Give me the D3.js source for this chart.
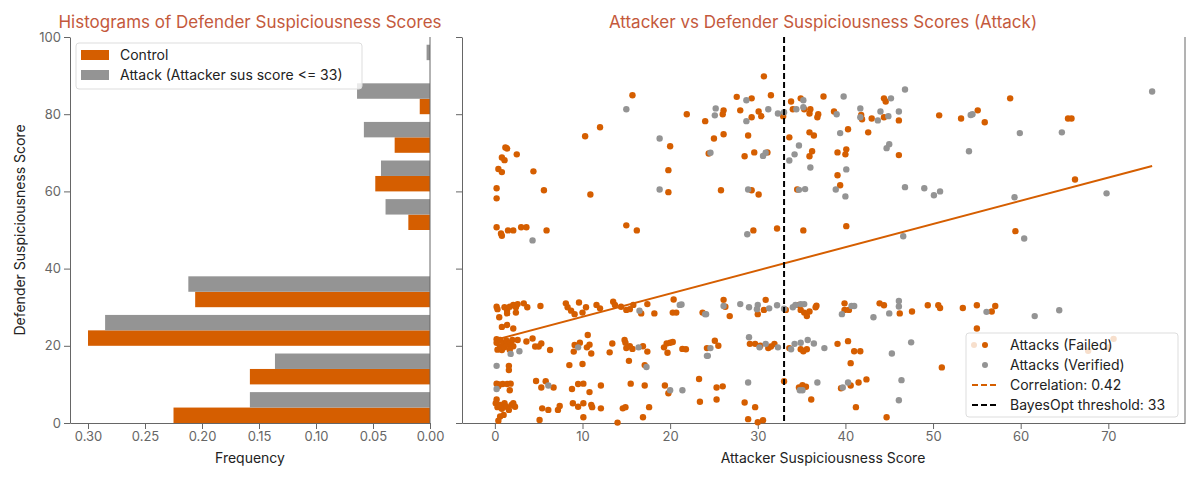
<!DOCTYPE html>
<html><head><meta charset="utf-8">
<script src="https://cdn.jsdelivr.net/npm/d3@7"></script>
<style>body{margin:0;background:#fff}text{font-family:Inter,"DejaVu Sans",sans-serif}</style>
</head><body><svg id="c" width="1200" height="480"></svg>
<script>
// ---- data ----
const binStarts = [0,10,20,30,40,50,60,70,80,90];
const controlFreq = [0.225,0.158,0.300,0.206,0,0.019,0.048,0.031,0.009,0];
const attackFreq  = [0.158,0.136,0.285,0.212,0,0.039,0.043,0.058,0.064,0.003];
const freqTicks = [0.30,0.25,0.20,0.15,0.10,0.05,0.00];
const scoreTicks = [0,20,40,60,80,100];
const attackerTicks = [0,10,20,30,40,50,60,70];
const threshold = 33;
const corr = 0.42;
const fitLine = [[0,21.5],[75,66.6]];
const failedPts = [
[0.2,60.8],[0.2,58.2],[1.2,71.4],[1.4,71.1],[0.8,68.8],[1.1,68.1],[0.4,65.8],[0.8,65.0],[2.5,69.6],[4.4,65.2],[5.6,60.3],
[0.2,50.7],[0.7,49.1],[0.8,48.5],[1.5,49.9],[2.1,49.9],[3.0,50.7],[3.6,50.7],[5.9,49.9],
[10.3,74.3],[12.0,76.6],[10.9,59.2],[15.7,84.9],[15.0,51.2],[16.2,49.9],[20.0,71.7],[19.8,65.5],[19.8,59.8],
[21.9,80.0],[24.0,78.2],[25.0,73.7],[26.1,74.8],[26.1,81.0],[26.0,80.0],[24.4,69.8],[25.8,60.3],[27.6,84.5],[29.3,84.1],
[28.0,81.0],[29.3,79.2],[28.9,74.5],[28.5,69.1],[29.6,70.1],[31.1,70.1],[30.7,89.8],[31.5,84.9],[30.1,80.7],[30.4,79.5],
[32.9,79.5],[29.3,60.3],[30.1,59.2],[29.5,49.9],[32.2,50.4],[33.6,74.0],[33.8,83.3],[34.9,84.1],[34.0,81.3],[35.3,81.3],
[36.0,81.3],[35.9,80.2],[36.9,80.0],[36.8,79.2],[37.5,84.6],[35.9,75.3],[36.4,74.5],[36.2,70.4],[35.9,69.1],[34.5,60.5],
[35.2,49.9],[38.7,80.7],[40.3,76.1],[39.1,70.1],[40.1,70.9],[40.0,69.6],[39.1,64.2],[39.4,61.6],[40.1,51.0],[41.8,79.8],
[44.4,84.1],[44.6,83.3],[41.9,78.7],[43.0,78.9],[44.4,79.2],[46.1,78.4],[42.6,75.3],[46.1,69.4],[50.7,79.7],[53.2,78.9],
[55.1,81.0],[55.9,77.9],[58.8,84.1],[65.4,78.9],[65.8,78.9],[66.2,63.1],[59.4,49.7],
[53.4,29.8],[55.0,30.5],[57.1,30.3],[56.7,28.9],[55.0,24.5],[67.7,18.7],[70.0,19.6],[70.6,21.8],
[26.1,31.9],[26.3,30.1],[26.8,27.7],[30.0,28.2],[30.7,29.3],[30.9,31.9],[33.2,29.3],[34.7,30.6],[34.9,29.3],[35.3,28.6],
[35.6,27.7],[35.9,28.9],[36.6,30.0],[36.7,30.4],[39.9,31.0],[39.9,29.3],[40.4,29.3],[43.9,31.0],[44.4,30.5],[46.2,28.4],
[47.6,28.9],[49.4,30.5],[50.6,30.5],[50.8,29.8],
[0.2,30.1],[0.3,29.5],[1.1,30.0],[1.4,29.1],[1.7,30.1],[2.1,30.6],[2.4,30.0],[2.6,30.8],[3.3,31.0],[3.7,30.0],[2.4,28.6],
[1.4,28.4],[0.5,27.4],[5.2,30.3],[8.1,31.0],[8.3,30.0],[8.7,29.1],[9.6,31.2],[10.0,28.6],[10.4,30.0],[9.1,28.2],[11.6,30.6],
[12.0,29.7],[13.5,31.4],[13.7,30.6],[14.4,30.1],[15.0,29.3],[15.4,29.5],[15.8,30.6],[16.7,28.4],[17.4,30.8],[18.2,28.4],
[20.4,32.0],[20.3,28.6],[20.7,28.6],[23.7,28.6],[1.4,25.4],[0.8,24.9],[2.1,24.5],[10.6,22.8],
[0.2,21.7],[0.2,20.8],[0.6,21.5],[0.6,19.9],[0.3,19.0],[0.8,18.9],[1.0,20.7],[1.1,19.6],[1.3,21.4],[1.5,20.3],[1.7,19.0],
[1.8,20.9],[2.0,21.5],[2.1,19.9],[2.6,21.5],[3.6,21.1],[4.3,21.9],[4.6,19.8],[5.0,19.8],[5.3,20.6],[6.3,18.9],[9.1,20.2],
[9.0,18.5],[9.7,20.8],[10.5,19.6],[11.0,18.0],[10.8,20.3],[13.1,18.3],[13.4,20.6],[14.8,21.5],[14.9,20.8],[15.0,19.4],
[15.4,19.9],[15.7,19.2],[16.9,19.9],[17.4,18.5],[19.3,19.6],[19.6,20.6],[20.0,20.8],[20.3,21.0],[19.7,18.2],[21.4,19.2],
[21.8,19.1],[15.3,16.1],[17.1,15.0],[8.5,15.0],[10.0,15.3],[1.6,14.8],[1.6,13.7],
[25.1,21.3],[24.2,19.4],[25.5,20.0],[29.1,20.5],[29.7,20.5],[30.3,20.0],[31.2,19.4],[31.5,19.8],[31.9,20.5],[33.6,19.4],
[34.9,19.1],[35.2,18.6],[35.6,19.1],[39.1,20.5],[40.3,21.2],[41.0,18.6],[41.7,18.6],[40.6,15.5],[51.0,14.4],
[0.2,10.2],[0.5,10.0],[0.4,9.5],[0.9,10.1],[1.4,10.1],[1.8,10.2],[1.7,8.5],[4.7,10.9],[5.3,9.2],[5.8,10.8],[6.7,9.2],
[8.8,8.8],[9.5,10.1],[10.1,10.2],[10.8,8.0],[12.1,9.7],[15.5,10.2],[17.1,9.7],[19.4,9.7],[19.8,7.7],[23.3,11.4],[23.4,5.5],
[25.3,9.2],[26.0,9.5],[33.0,10.8],[34.7,9.2],[35.1,9.8],[35.5,9.4],[36.1,6.1],[39.5,9.0],[40.6,9.7],[41.5,10.5],[42.4,11.3],
[41.2,4.1],[25.3,6.1],[28.5,5.3],[29.7,4.1],[28.9,1.0],[30.0,0.2],[30.6,0.7],[44.7,1.5],
[0.2,6.1],[0.1,5.1],[0.3,4.1],[0.6,4.7],[0.8,3.7],[1.1,5.1],[1.3,4.2],[1.6,3.4],[1.9,4.7],[2.1,5.1],[2.3,4.2],[5.4,3.8],
[6.1,3.4],[7.2,3.4],[7.4,4.4],[8.9,5.1],[9.5,4.2],[10.1,5.1],[11.0,4.7],[11.1,4.1],[12.1,3.8],[14.6,3.8],[14.9,4.1],
[17.6,4.1],[10.1,1.5],[5.1,0.8],[0.6,1.7],[1.0,2.1],[0.4,0.6],[16.9,1.5],[14.0,0.1]
];
const verifiedPts = [
[4.3,47.3],[15.0,81.3],[18.8,73.7],[18.8,60.5],[25.2,81.5],[25.1,79.7],[24.6,70.0],[28.7,83.6],[28.7,78.2],[30.6,69.2],
[30.9,70.0],[31.2,81.3],[32.3,80.2],[33.0,80.5],[28.9,60.5],[28.8,48.9],[33.6,68.0],[34.2,69.6],[34.7,71.9],[35.2,83.6],
[34.4,81.3],[35.2,81.8],[36.0,66.2],[34.7,60.4],[35.4,60.6],[39.0,80.0],[39.8,84.6],[39.4,75.1],[40.1,65.7],[38.9,60.5],
[40.0,58.7],[41.7,81.5],[41.7,79.2],[46.8,86.4],[45.2,84.1],[43.7,78.4],[44.0,80.7],[44.9,79.5],[46.1,80.7],[44.7,71.2],
[45.0,72.2],[54.3,79.8],[54.5,80.0],[59.9,75.1],[54.1,70.4],[64.7,75.3],[75.0,85.9],[46.8,61.1],[49.0,60.8],[50.1,59.0],
[50.8,60.0],[59.3,58.5],[60.4,47.8],[69.8,59.5],[46.6,48.4],
[56.1,28.8],[61.6,27.7],[64.4,29.2],
[26.1,30.3],[24.1,28.2],[28.0,30.8],[29.0,30.0],[30.0,30.6],[29.9,29.5],[31.3,29.7],[32.2,30.5],[33.0,29.6],[34.0,30.0],
[34.3,30.6],[34.9,30.8],[35.3,30.8],[40.7,30.3],[41.0,30.3],[39.6,28.2],[46.1,31.6],[46.1,30.2],[45.0,28.4],[43.2,27.4],
[16.5,29.1],[21.1,30.6],[21.3,30.7],[24.0,28.2],
[24.6,19.4],[24.3,17.4],[29.0,22.2],[30.2,19.6],[30.9,20.5],[32.3,19.6],[33.8,19.1],[34.2,20.5],[34.9,20.8],[35.7,21.5],
[36.4,20.6],[37.6,19.4],[45.3,18.0],[47.5,20.9],[1.8,17.9],[2.8,18.6],[9.5,19.6],[16.4,19.6],[24.2,17.4],[17.3,14.5],[0.2,14.8],
[28.9,10.5],[34.8,8.5],[35.1,8.5],[36.8,10.5],[39.7,9.2],[40.3,10.5],[46.4,11.1],[46.1,5.9],[0.2,8.8],[6.1,9.7],[20.0,8.5],[21.4,8.5]
];

// ---- drawing ----
const svg = d3.select("#c");
const ORANGE = "#d55e00", GRAY = "#949494", TITLE = "#c4593c", AX = "#666";
const yTop = 37, yBot = 423;

const xL = d3.scaleLinear().domain([0.3158, 0]).range([70, 430]);
const yS = d3.scaleLinear().domain([0, 100]).range([yBot, yTop]);
const gL = svg.append("g");
gL.selectAll(".c").data(binStarts).join("rect")
  .attr("x", (d,i) => xL(controlFreq[i])).attr("width", (d,i) => xL(0) - xL(controlFreq[i]))
  .attr("y", d => yS(d + 4)).attr("height", d => yS(d) - yS(d + 4)).attr("fill", ORANGE);
gL.selectAll(".a").data(binStarts).join("rect")
  .attr("x", (d,i) => xL(attackFreq[i])).attr("width", (d,i) => xL(0) - xL(attackFreq[i]))
  .attr("y", d => yS(d + 8)).attr("height", d => yS(d + 4) - yS(d + 8)).attr("fill", GRAY);

function styleAxis(g){
  g.selectAll("path,line").attr("stroke", AX);
  g.selectAll("text").attr("fill", "#666").attr("font-size", 13);
}
styleAxis(gL.append("g").attr("transform", `translate(0,${yBot})`)
  .call(d3.axisBottom(xL).tickValues(freqTicks).tickFormat(d3.format(".2f")).tickSizeOuter(0)));
styleAxis(gL.append("g").attr("transform", "translate(70,0)")
  .call(d3.axisLeft(yS).tickValues(scoreTicks).tickSizeOuter(0)));
gL.append("line").attr("x1",430).attr("x2",430).attr("y1",yTop).attr("y2",yBot).attr("stroke",AX);

const lg = gL.append("g");
lg.append("rect").attr("x",76).attr("y",43).attr("width",286).attr("height",46).attr("rx",3)
  .attr("fill","#fff").attr("fill-opacity",0.8).attr("stroke","#ddd");
[["Control",ORANGE],["Attack (Attacker sus score <= 33)",GRAY]].forEach((e,i)=>{
  lg.append("rect").attr("x",81).attr("y",50+i*20).attr("width",28).attr("height",10).attr("fill",e[1]);
  lg.append("text").attr("x",120).attr("y",60+i*20).attr("font-size",14).attr("fill","#222").text(e[0]);
});

const xR = d3.scaleLinear().domain([-3.75, 78.75]).range([462, 1185]);
const gR = svg.append("g");
styleAxis(gR.append("g").attr("transform", `translate(0,${yBot})`)
  .call(d3.axisBottom(xR).tickValues(attackerTicks).tickSizeOuter(0)));
styleAxis(gR.append("g").attr("transform", "translate(462,0)")
  .call(d3.axisLeft(yS).tickValues(scoreTicks).tickFormat("").tickSizeOuter(0)));
gR.append("line").attr("x1",1185).attr("x2",1185).attr("y1",yTop).attr("y2",yBot).attr("stroke",AX);

gR.selectAll(".f").data(failedPts).join("circle")
  .attr("cx", d => xR(d[0])).attr("cy", d => yS(d[1])).attr("r", 3.2).attr("fill", ORANGE);
gR.selectAll(".v").data(verifiedPts).join("circle")
  .attr("cx", d => xR(d[0])).attr("cy", d => yS(d[1])).attr("r", 3.2).attr("fill", GRAY);
gR.append("line").attr("x1", xR(fitLine[0][0])).attr("y1", yS(fitLine[0][1]))
  .attr("x2", xR(fitLine[1][0])).attr("y2", yS(fitLine[1][1])).attr("stroke", ORANGE).attr("stroke-width", 2);
gR.append("line").attr("x1", xR(threshold)).attr("x2", xR(threshold)).attr("y1", yTop).attr("y2", yBot)
  .attr("stroke","#000").attr("stroke-width",2).attr("stroke-dasharray","6,3");

const rg = gR.append("g");
rg.append("rect").attr("x",966).attr("y",333).attr("width",212).attr("height",84).attr("rx",3)
  .attr("fill","#fff").attr("fill-opacity",0.8).attr("stroke","#ddd");
const ly = [345,365,385,405];
rg.append("circle").attr("cx",974).attr("cy",ly[0]).attr("r",3).attr("fill",ORANGE).attr("opacity",0.2);
rg.append("circle").attr("cx",985).attr("cy",ly[0]).attr("r",3).attr("fill",ORANGE);
rg.append("circle").attr("cx",985).attr("cy",ly[1]).attr("r",3).attr("fill",GRAY);
rg.append("line").attr("x1",972).attr("x2",998).attr("y1",ly[2]).attr("y2",ly[2]).attr("stroke",ORANGE).attr("stroke-width",2).attr("stroke-dasharray","6,3");
rg.append("line").attr("x1",972).attr("x2",998).attr("y1",ly[3]).attr("y2",ly[3]).attr("stroke","#000").attr("stroke-width",2).attr("stroke-dasharray","6,3");
["Attacks (Failed)","Attacks (Verified)",`Correlation: ${corr.toFixed(2)}`,`BayesOpt threshold: ${threshold}`].forEach((t,i)=>{
  rg.append("text").attr("x",1010).attr("y",ly[i]+5).attr("font-size",14).attr("fill","#222").text(t);
});

svg.append("text").attr("x",250).attr("y",28).attr("text-anchor","middle").attr("font-size",17).attr("fill",TITLE)
  .text("Histograms of Defender Suspiciousness Scores");
svg.append("text").attr("x",823).attr("y",28).attr("text-anchor","middle").attr("font-size",17).attr("fill",TITLE)
  .text("Attacker vs Defender Suspiciousness Scores (Attack)");
svg.append("text").attr("x",250).attr("y",463).attr("text-anchor","middle").attr("font-size",14).attr("fill","#222").text("Frequency");
svg.append("text").attr("x",823).attr("y",463).attr("text-anchor","middle").attr("font-size",14).attr("fill","#222").text("Attacker Suspiciousness Score");
svg.append("text").attr("transform","translate(25,230) rotate(-90)").attr("text-anchor","middle").attr("font-size",14).attr("fill","#222")
  .text("Defender Suspiciousness Score");
</script></body></html>
